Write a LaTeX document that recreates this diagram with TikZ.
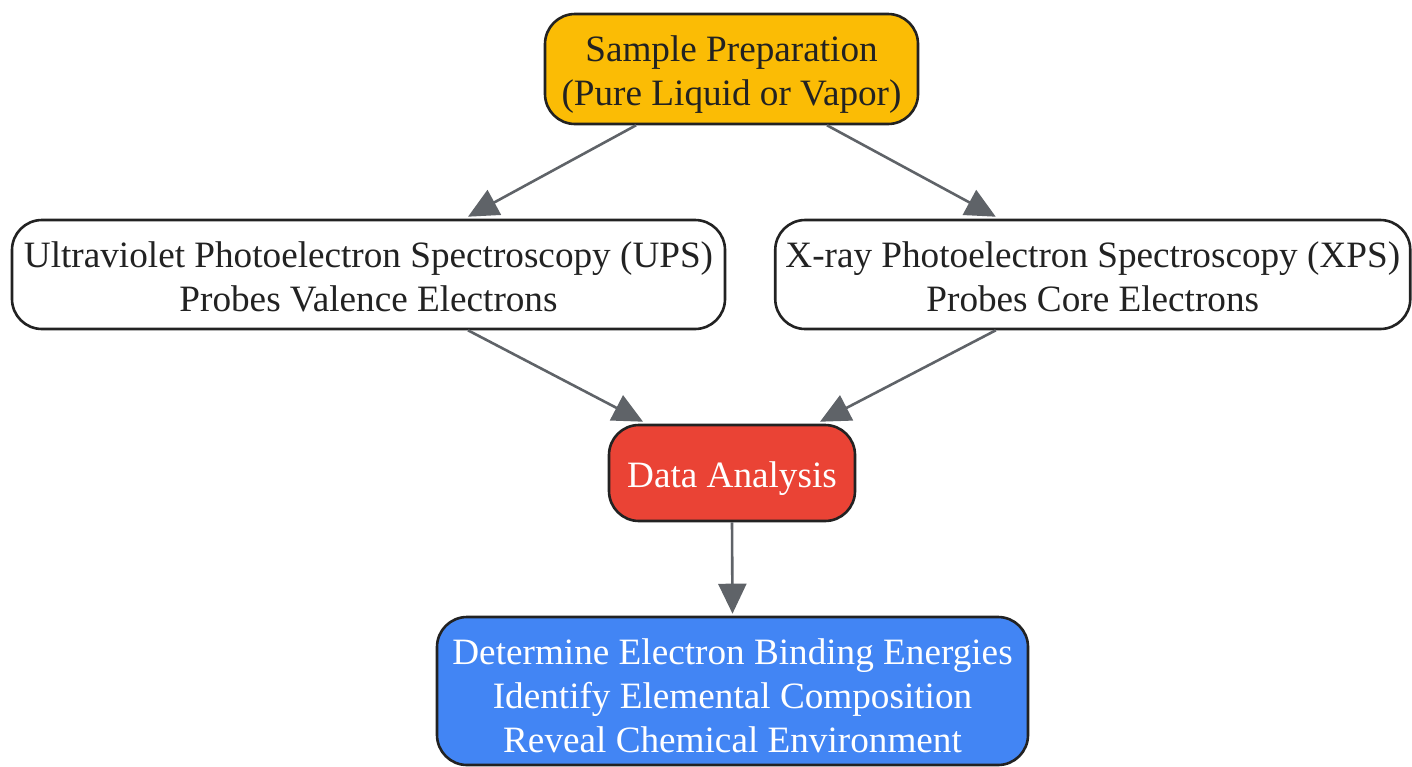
\documentclass[tikz,border=0pt]{standalone}
\usepackage{fontspec}
\setmainfont{Liberation Serif}
\usetikzlibrary{arrows.meta}
\definecolor{gyellow}{HTML}{FBBC05}
\definecolor{gred}{HTML}{EA4335}
\definecolor{gblue}{HTML}{4285F4}
\definecolor{edgec}{HTML}{5F6368}
\definecolor{txt}{HTML}{222222}
\tikzset{
  box/.style={draw=txt, line width=1.3pt, rounded corners=15pt, inner sep=0pt},
  lbl/.style={align=center, inner sep=0pt, yshift=-2.6pt,
    font=\fontsize{18.6pt}{22pt}\selectfont, text=txt},
  mlbl/.style={lbl, yshift=1.4pt},
  wlbl/.style={lbl, text=white},
  conn/.style={draw=edgec, line width=1.3pt, -{Triangle[length=15pt,width=14pt]}}
}
\begin{document}
\begin{tikzpicture}[x=0.5pt,y=-0.5pt]
\useasboundingbox (0,0) rectangle (1412,766);
\node[box, fill=gyellow, minimum width=186.5pt, minimum height=55pt,
  label={[lbl]center:{Sample Preparation\\(Pure Liquid or Vapor)}}] (s) at (731.5,69) {};
\node[box, fill=white, minimum width=356.5pt, minimum height=54.5pt,
  label={[mlbl]center:{Ultraviolet Photoelectron Spectroscopy (UPS)\\Probes Valence Electrons}}] (ups) at (368.5,274.5) {};
\node[box, fill=white, minimum width=317.5pt, minimum height=54.5pt,
  label={[mlbl]center:{X-ray Photoelectron Spectroscopy (XPS)\\Probes Core Electrons}}] (xps) at (1092.75,274.5) {};
\node[box, fill=gred, minimum width=123pt, minimum height=48pt,
  label={[wlbl]center:{Data Analysis}}] (da) at (732,473) {};
\node[box, fill=gblue, minimum width=295.5pt, minimum height=74pt,
  label={[wlbl]center:{Determine Electron Binding Energies\\Identify Elemental Composition\\Reveal Chemical Environment}}] (res) at (732.5,691) {};
\draw[conn] ([xshift=-47.75pt]s.south) -- ([xshift=49.75pt,yshift=1pt]ups.north);
\draw[conn] ([xshift=47.75pt]s.south) -- ([xshift=-48.5pt,yshift=1pt]xps.north);
\draw[conn] ([xshift=49.75pt]ups.south) -- ([xshift=-44.5pt,yshift=1pt]da.north);
\draw[conn] ([xshift=-48.5pt]xps.south) -- ([xshift=44pt,yshift=1pt]da.north);
\draw[conn] (da.south) -- ([yshift=1pt]res.north);
\end{tikzpicture}
\end{document}
